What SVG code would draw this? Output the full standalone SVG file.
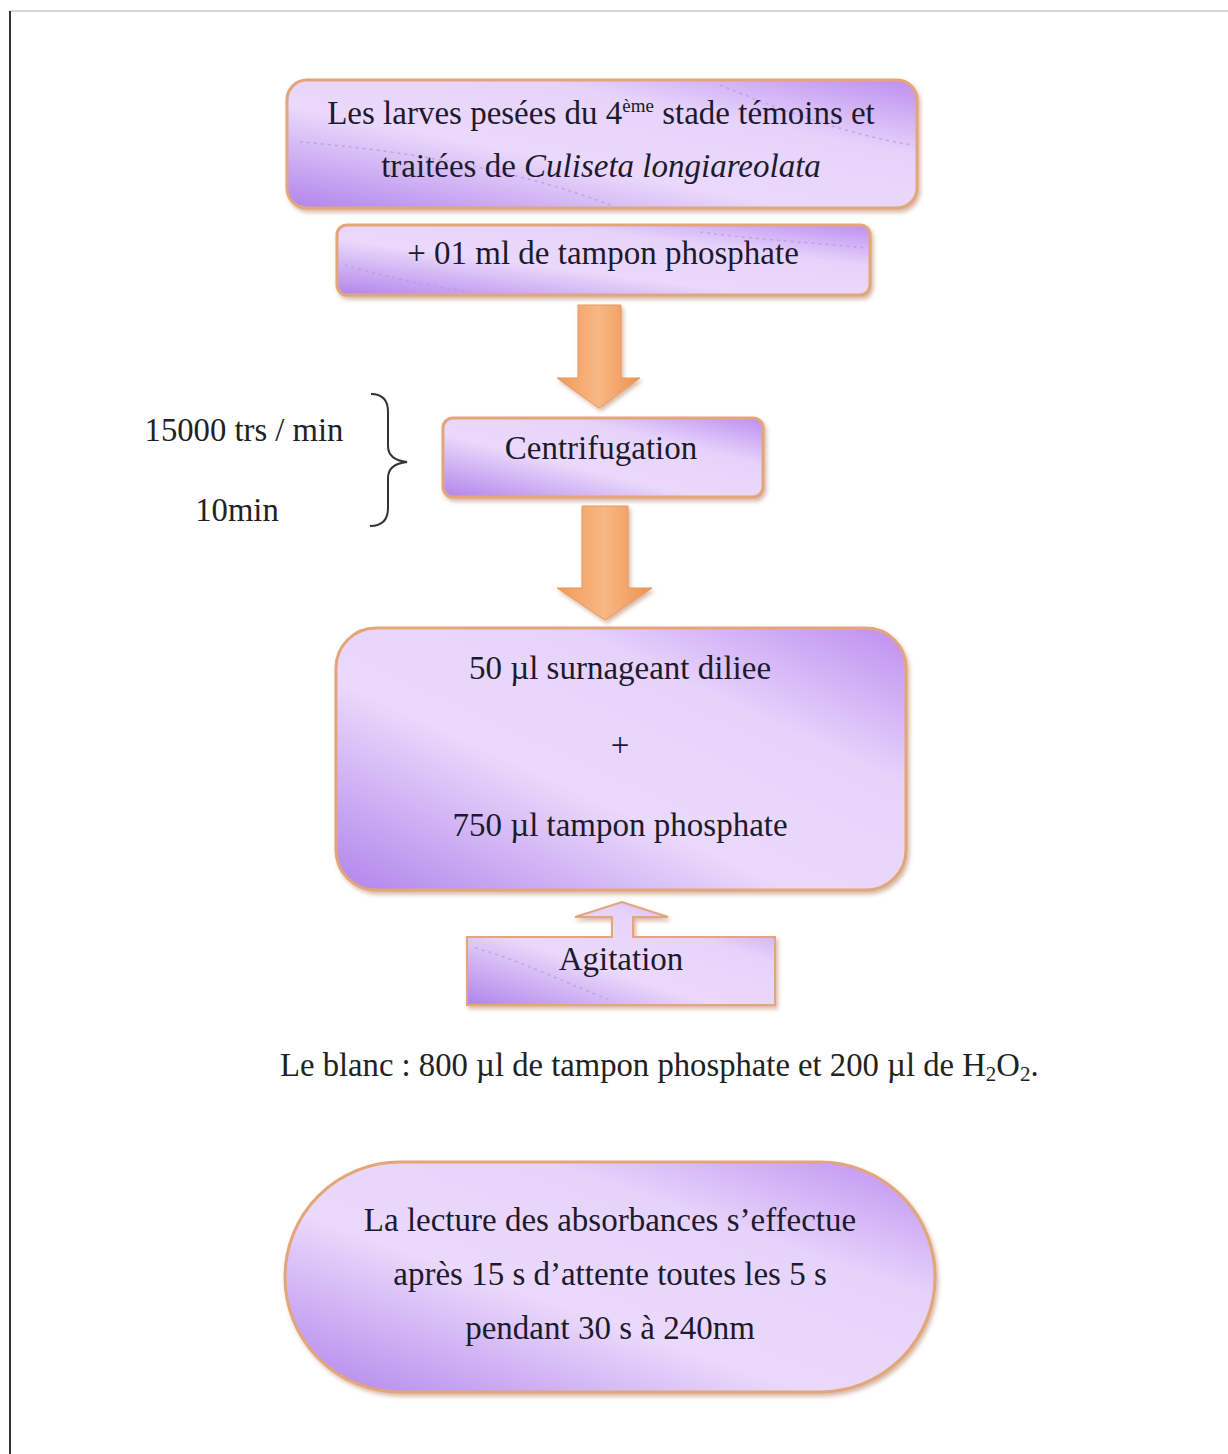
<svg xmlns="http://www.w3.org/2000/svg" width="1228" height="1454" viewBox="0 0 1228 1454">
<defs>
<linearGradient id="boxg" x1="1" y1="0" x2="0" y2="1">
<stop offset="0" stop-color="#bd8ef0"/>
<stop offset="0.3" stop-color="#e6d3fb"/>
<stop offset="0.6" stop-color="#ead9fb"/>
<stop offset="1" stop-color="#b184ec"/>
</linearGradient>
<linearGradient id="arrg" x1="0" y1="0" x2="1" y2="0">
<stop offset="0" stop-color="#f29a5a"/>
<stop offset="0.5" stop-color="#f8b783"/>
<stop offset="1" stop-color="#ee9150"/>
</linearGradient>
<filter id="sh" x="-5%" y="-5%" width="112%" height="125%">
<feDropShadow dx="2" dy="3" stdDeviation="2" flood-color="#c89a80" flood-opacity="0.7"/>
</filter>
</defs>
<style>
.box{fill:url(#boxg);stroke:#e3a57a;stroke-width:3;filter:url(#sh)}
.arr{fill:url(#arrg);stroke:#e8995e;stroke-width:1;filter:url(#sh)}
text{font-family:'Liberation Serif','DejaVu Serif',serif}
.t{font-size:33px;fill:#1d1a2e;text-anchor:middle}
.p{font-size:32.7px;fill:#222}
.dash{fill:none;stroke:#b49ad8;stroke-width:1.5;stroke-dasharray:3 4;opacity:0.7}
</style>
<rect width="1228" height="1454" fill="#fff"/>
<line x1="10" y1="11" x2="1228" y2="11" stroke="#c8c8c8" stroke-width="1.5"/>
<line x1="10" y1="11" x2="10" y2="1454" stroke="#333" stroke-width="2"/>

<g id="connectors">
<path class="arr" d="M578,305 H621 V378 H640 L599,408 L557,378 H578 Z"/>
<path class="arr" d="M582,506 H628 V588 H652 L605,620 L557,588 H582 Z"/>
</g>

<g id="n1">
<rect class="box" x="287" y="80" width="630" height="128" rx="20"/>
<path class="dash" d="M300,142 C400,150 520,170 610,205"/>
<path class="dash" d="M720,85 C780,110 850,135 912,145"/>
<text class="t" x="601" y="124">Les larves pesées du 4<tspan dy="-12" font-size="19">ème</tspan><tspan dy="12"> stade témoins et</tspan></text>
<text class="t" x="601" y="177">traitées de <tspan font-style="italic">Culiseta longiareolata</tspan></text>
</g>

<g id="n2">
<rect class="box" x="337" y="225" width="533" height="70" rx="10"/>
<path class="dash" d="M345,265 C380,275 420,285 470,292"/>
<path class="dash" d="M700,232 C760,240 820,243 865,248"/>
<text class="t" x="603" y="264">+ 01 ml de tampon phosphate</text>
</g>

<g id="n3">
<rect class="box" x="443" y="418" width="320" height="79" rx="10"/>
<text class="t" x="601" y="459">Centrifugation</text>
</g>

<g id="bracket">
<path d="M371,394 Q388,394 388,412 V446 Q388,460 407,462 Q388,464 388,478 V508 Q388,526 370,526" fill="none" stroke="#333" stroke-width="2"/>
<text class="p" x="244" y="441" text-anchor="middle">15000 trs / min</text>
<text class="p" x="237" y="521" text-anchor="middle">10min</text>
</g>

<g id="n4">
<rect class="box" x="336" y="628" width="570" height="262" rx="40"/>
<text class="t" x="620" y="679">50 µl surnageant diliee</text>
<text class="t" x="620" y="756">+</text>
<text class="t" x="620" y="836">750 µl tampon phosphate</text>
</g>

<g id="n5">
<path class="box" style="stroke-width:2" d="M467,937 H612 V917 H575 L622,902 L668,917 H633 V937 H775 V1005 H467 Z"/>
<path class="dash" d="M475,948 C520,960 570,985 610,1000"/>
<text class="t" x="621" y="970">Agitation</text>
</g>

<g id="blanc">
<text class="p" x="280" y="1076">Le blanc : 800 µl de tampon phosphate et 200 µl de H<tspan font-size="21" dy="5">2</tspan><tspan dy="-5">O</tspan><tspan font-size="21" dy="5">2</tspan><tspan dy="-5">.</tspan></text>
</g>

<g id="n6">
<rect class="box" x="285" y="1162" width="650" height="230" rx="115"/>
<text class="t" x="610" y="1231">La lecture des absorbances s’effectue</text>
<text class="t" x="610" y="1285">après 15 s d’attente toutes les 5 s</text>
<text class="t" x="610" y="1339">pendant 30 s à 240nm</text>
</g>
</svg>
